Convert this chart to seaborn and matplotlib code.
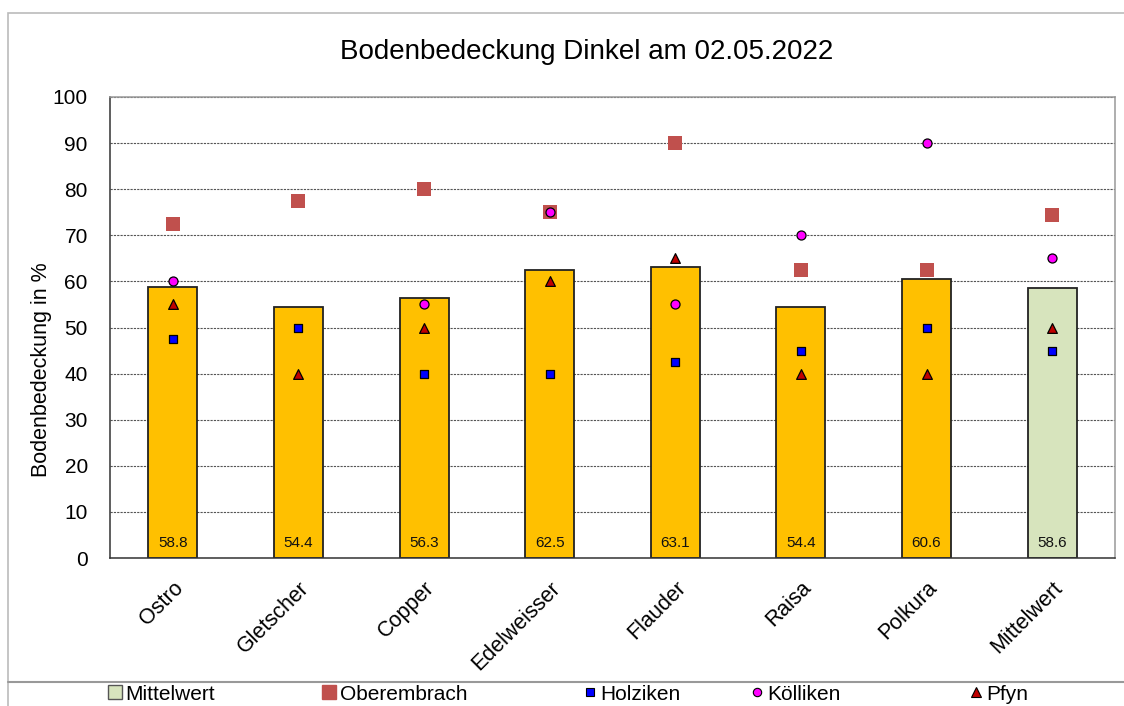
import numpy as np
import pandas as pd
import matplotlib
matplotlib.use("Agg")
import matplotlib.pyplot as plt
from matplotlib.lines import Line2D
from matplotlib.patches import Rectangle
import seaborn as sns

categories = ["Ostro", "Gletscher", "Copper", "Edelweisser", "Flauder", "Raisa", "Polkura", "Mittelwert"]
mittel = [58.8, 54.4, 56.3, 62.5, 63.1, 54.4, 60.6, 58.6]
oberembrach = [72.5, 77.5, 80.0, 75.0, 90.0, 62.5, 62.5, 74.3]
holziken = [47.5, 50.0, 40.0, 40.0, 42.5, 45.0, 50.0, 45.0]
koelliken = [60.0, np.nan, 55.0, 75.0, 55.0, 70.0, 90.0, 65.0]
pfyn = [55.0, 40.0, 50.0, 60.0, 65.0, 40.0, 40.0, 50.0]
yticks = [0, 10, 20, 30, 40, 50, 60, 70, 80, 90, 100]

sns.set_style("white")
plt.rcParams['font.family'] = ['Liberation Sans', 'DejaVu Sans']
plt.rcParams['text.color'] = 'black'
plt.rcParams['xtick.color'] = 'black'
plt.rcParams['ytick.color'] = 'black'
plt.rcParams['axes.labelcolor'] = 'black'

W, H = 1124, 706
fig = plt.figure(figsize=(W / 100, H / 100), dpi=100)
ax = fig.add_axes([110 / W, 1 - 558 / H, (1115 - 110) / W, (558 - 97) / H])

bar_colors = ["#FFC000"] * 7 + ["#D7E4BD"]
df = pd.DataFrame({"cat": categories, "val": mittel})
sns.barplot(data=df, x="cat", y="val", hue="cat", palette=bar_colors, order=categories,
            legend=False, width=0.39, saturation=1, edgecolor="#222222", linewidth=1.3, ax=ax, zorder=2)

sns.stripplot(x=categories, y=oberembrach, order=categories, jitter=False, marker="s",
              color="#C0504D", size=9.5, linewidth=0, ax=ax, zorder=3)
sns.stripplot(x=categories, y=holziken, order=categories, jitter=False, marker="s",
              color="#0000FF", size=6.3, linewidth=0.9, edgecolor="black", ax=ax, zorder=4)
sns.stripplot(x=categories, y=koelliken, order=categories, jitter=False, marker="o",
              color="#FF00FF", size=6.5, linewidth=0.9, edgecolor="black", ax=ax, zorder=5)
sns.stripplot(x=categories, y=pfyn, order=categories, jitter=False, marker="^",
              color="#C00000", size=7, linewidth=0.9, edgecolor="black", ax=ax, zorder=6)

for i, v in enumerate(mittel):
    ax.text(i, 3.3, f"{v:.1f}", ha="center", va="center", fontsize=11, color="#111111", zorder=7)

ax.set_ylim(0, 100)
ax.set_xlim(-0.5, len(categories) - 0.5)
ax.set_yticks(yticks)
ax.set_yticklabels([str(t) for t in yticks], fontsize=15)
ax.yaxis.grid(True, linestyle=(0, (2, 1)), color="#555555", linewidth=0.8, zorder=0)
ax.xaxis.grid(False)
ax.set_axisbelow(True)
ax.set_xlabel("")
ax.set_ylabel("")

ax.set_xticks(range(len(categories)))
ax.set_xticklabels(categories, rotation=45, ha="right", fontsize=15.5)
ax.set_xticks(np.arange(-0.5, len(categories), 1.0), minor=True)
ax.tick_params(axis="x", which="major", length=0, pad=14)
ax.tick_params(axis="x", which="minor", length=6, width=1, color="#333333", direction="out")
ax.tick_params(axis="y", which="major", length=6, width=1, color="#333333", direction="out", pad=10)
for lbl in ax.get_xticklabels():
    lbl.set_rotation_mode("anchor")
    lbl.set_va("top")

for s in ["left", "bottom"]:
    ax.spines[s].set_color("#333333")
    ax.spines[s].set_linewidth(1.1)
for s in ["top", "right"]:
    ax.spines[s].set_color("#999999")
    ax.spines[s].set_linewidth(1.1)

fig.text(587 / W, 1 - 52 / H, "Bodenbedeckung Dinkel am 02.05.2022", ha="center", va="center", fontsize=20)
fig.text(42 / W, 1 - 370 / H, "Bodenbedeckung in %", rotation=90, ha="center", va="center", fontsize=15.5)

# outer chart frame and legend frame
fig.patches.append(Rectangle((8 / W, -0.05), 1.2, 1 - 13 / H + 0.05, transform=fig.transFigure,
                             fill=False, edgecolor="#BBBBBB", linewidth=1.2))
fig.add_artist(Line2D([8 / W, 1.0], [1 - 682 / H, 1 - 682 / H], transform=fig.transFigure,
                      color="#999999", linewidth=1.5))

handles = [
    Line2D([], [], linestyle="none", marker="s", markersize=10, markerfacecolor="#D7E4BD", markeredgecolor="#555555", markeredgewidth=1),
    Line2D([], [], linestyle="none", marker="s", markersize=10, markerfacecolor="#C0504D", markeredgecolor="#C0504D"),
    Line2D([], [], linestyle="none", marker="s", markersize=6, markerfacecolor="#0000FF", markeredgecolor="black", markeredgewidth=0.8),
    Line2D([], [], linestyle="none", marker="o", markersize=6, markerfacecolor="#FF00FF", markeredgecolor="black", markeredgewidth=0.8),
    Line2D([], [], linestyle="none", marker="^", markersize=6.5, markerfacecolor="#C00000", markeredgecolor="black", markeredgewidth=0.8),
]
labels = ["Mittelwert", "Oberembrach", "Holziken", "Kölliken", "Pfyn"]
xs = [108, 322, 583, 750, 969]
for h, l, x in zip(handles, labels, xs):
    fig.legend([h], [l], loc="center left", bbox_to_anchor=(x / W, 1 - 694 / H), frameon=False,
               handlelength=0.7, handletextpad=0.15, borderpad=0, borderaxespad=0, fontsize=15, numpoints=1)

fig.savefig("out.png", dpi=100)
